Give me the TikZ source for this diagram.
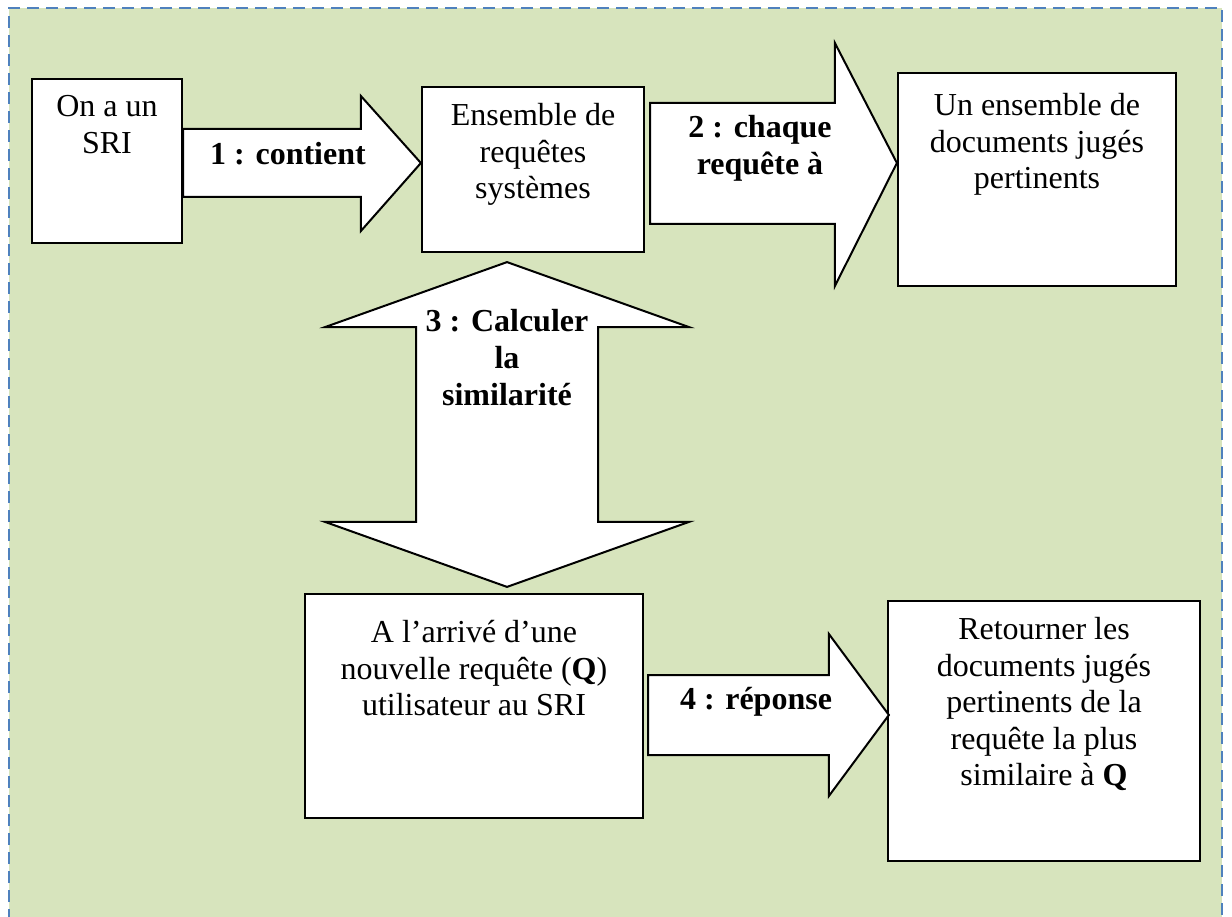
\documentclass[tikz,border=0pt]{standalone}
\usepackage{fontspec}
\setmainfont{Liberation Serif}
\usetikzlibrary{calc}

\definecolor{vertfond}{HTML}{D7E4BD}
\definecolor{bleubord}{HTML}{4F81BD}

\begin{document}
\begin{tikzpicture}[x=1pt,y=-1pt,
    boite/.style={draw=black, fill=white, line width=2.2pt, inner sep=0pt},
    fleche/.style={draw=black, fill=white, line width=2pt, line join=miter},
    texte/.style={align=center, inner sep=0pt, anchor=base, font=\fontsize{32}{36.5}\selectfont},
    gras/.style={texte, font=\fontsize{32}{37}\selectfont\bfseries}]
    \useasboundingbox (0,0) rectangle (1232,917);
    \clip (0,0) rectangle (1232,917);

    % fond vert et cadre pointille
    \fill[vertfond] (9,8) rectangle (1222,940);
    \draw[bleubord, line width=2.6pt, dash pattern=on 12pt off 7pt] (9,940) -- (9,8) -- (1222,8) -- (1222,940);

    % les boites
    \node[boite, minimum width=150, minimum height=164] (sri) at (107,161) {};
    \node[boite, minimum width=222, minimum height=165] (ens) at (533,169.5) {};
    \node[boite, minimum width=278, minimum height=213] (docs) at (1037,179.5) {};
    \node[boite, minimum width=338, minimum height=224] (nouv) at (474,706) {};
    \node[boite, minimum width=312, minimum height=260] (rep) at (1044,731) {};

    % 1 : contient
    \coordinate (q1) at (sri.east |- 0,163);
    \coordinate (p1) at (ens.west |- 0,163);
    \draw[fleche] ($(q1)+(0,-34)$) -- ($(p1)+(-60,-34)$) -- ($(p1)+(-60,-67)$) -- (p1)
        -- ($(p1)+(-60,68)$) -- ($(p1)+(-60,34)$) -- ($(q1)+(0,34)$) -- cycle;

    % 2 : chaque requete
    \coordinate (q2) at ($(ens.east |- 0,163)+(5,0)$);
    \coordinate (p2) at (docs.west |- 0,163);
    \draw[fleche] ($(q2)+(0,-60)$) -- ($(p2)+(-62,-60)$) -- ($(p2)+(-62,-120)$) -- (p2)
        -- ($(p2)+(-62,123)$) -- ($(p2)+(-62,61)$) -- ($(q2)+(0,61)$) -- cycle;

    % 3 : double fleche verticale
    \coordinate (p3) at ($(507,0 |- ens.south)+(0,9)$);
    \coordinate (q3) at ($(507,0 |- nouv.north)+(0,-6)$);
    \draw[fleche] (p3) -- ($(p3)+(182,65)$) -- ($(p3)+(91,65)$) -- ($(q3)+(91,-65)$) -- ($(q3)+(182,-65)$)
        -- (q3) -- ($(q3)+(-182,-65)$) -- ($(q3)+(-91,-65)$) -- ($(p3)+(-91,65)$) -- ($(p3)+(-182,65)$) -- cycle;

    % 4 : reponse
    \coordinate (q4) at ($(nouv.east |- 0,715)+(4,0)$);
    \coordinate (p4) at ($(rep.west |- 0,715)+(2,0)$);
    \draw[fleche] ($(q4)+(0,-40)$) -- ($(p4)+(-60,-40)$) -- ($(p4)+(-60,-81)$) -- (p4)
        -- ($(p4)+(-60,81)$) -- ($(p4)+(-60,40)$) -- ($(q4)+(0,40)$) -- cycle;

    % textes (ancre sur la ligne de base de la derniere ligne)
    \node[texte] (tsri) at ($(sri.north)+(0,75.5)$) {On a un\\SRI};
    \node[texte] (tens) at ($(ens.north)+(0,113)$) {Ensemble de\\requêtes\\systèmes};
    \node[texte] (tdocs) at ($(docs.north)+(0,117)$) {Un ensemble de\\documents jugés\\pertinents};
    \node[texte] (tnouv) at ($(nouv.north)+(0,123)$) {A l’arrivé d’une\\nouvelle requête (\textbf{Q})\\utilisateur au SRI};
    \node[texte] (trep) at ($(rep.north)+(0,186)$) {Retourner les\\documents jugés\\pertinents de la\\requête la plus\\similaire à \textbf{Q}};

    \node[gras] (l1) at (288,165) {1 : contient};
    \node[gras] (l2) at (760,175) {2 : chaque\\requête à};
    \node[gras] (l3) at (507,406) {3 : Calculer\\la\\similarité};
    \node[gras] (l4) at (756,709) {4 : réponse};
\end{tikzpicture}
\end{document}
